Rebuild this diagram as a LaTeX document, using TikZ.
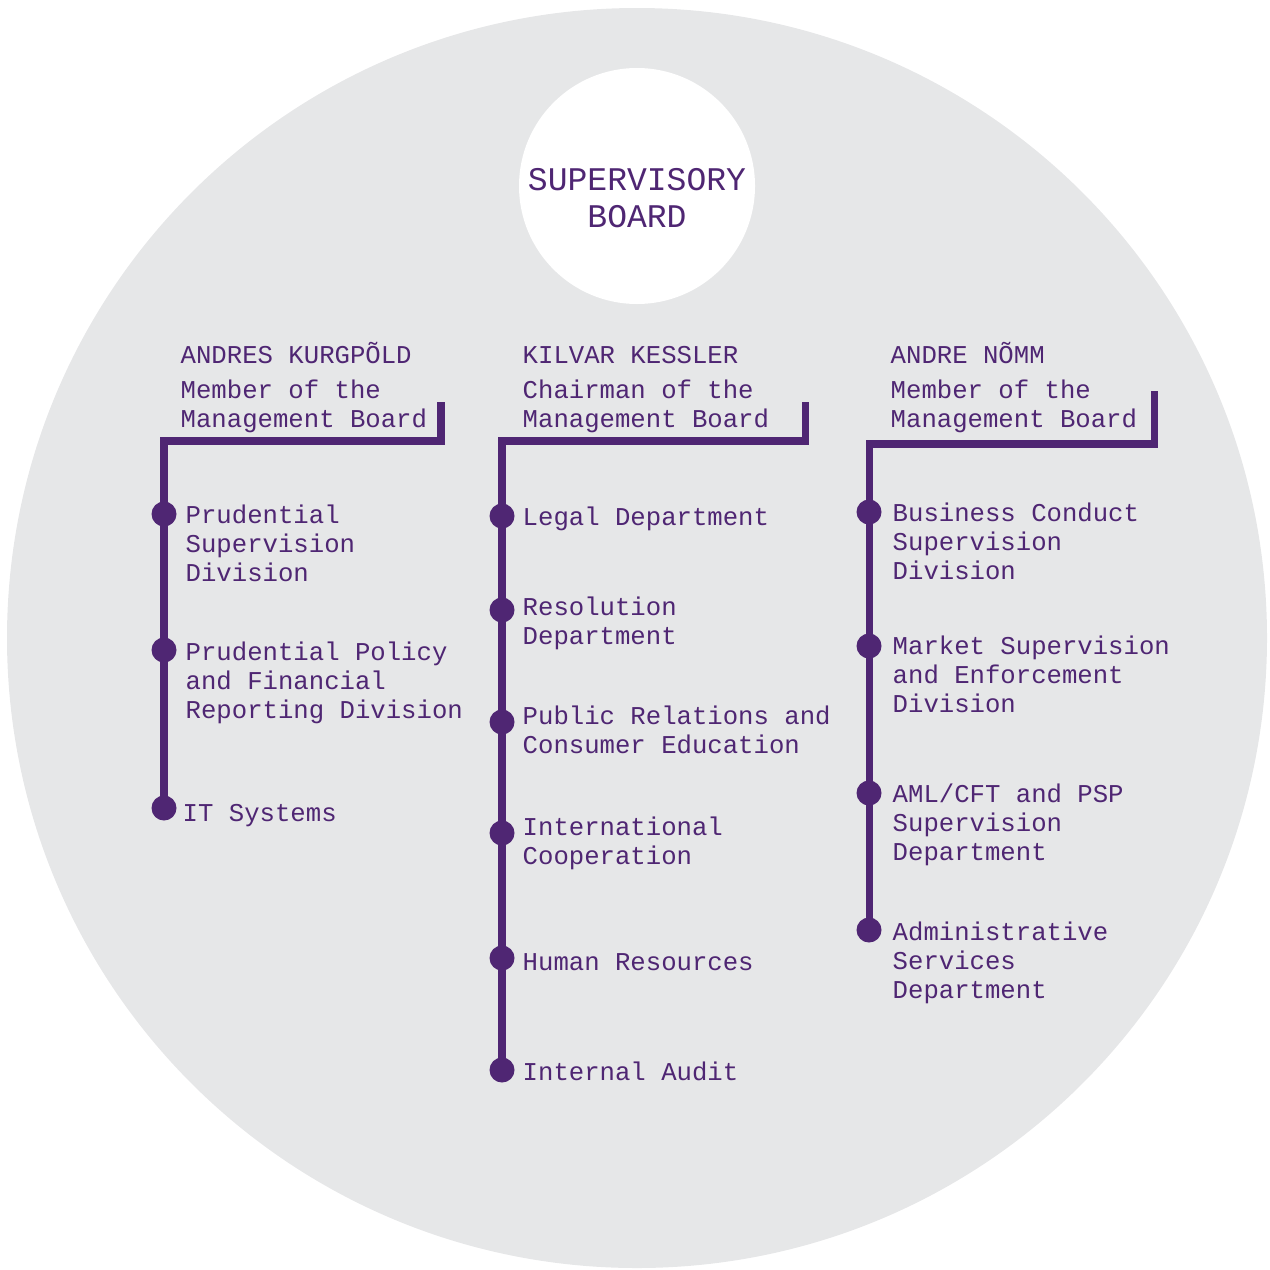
\documentclass[tikz,border=0pt]{standalone}
\usepackage{fontspec}
\newfontfamily\boardfont{Liberation Mono}
\definecolor{fsviolet}{RGB}{79,38,115}
\definecolor{fsgrey}{RGB}{230,231,232}
\begin{document}
\begin{tikzpicture}[x=0.1mm, y=-0.1mm, line join=miter,
	bar/.style={draw=fsviolet, line width=2pt},
	dot/.style={circle, fill=fsviolet, minimum size=2.5mm, inner sep=0pt},
	txt/.style={anchor=base west, inner sep=0pt, align=left, text=fsviolet, font=\boardfont\fontsize{7.3}{8.25}\selectfont}]
	\useasboundingbox (0,0) rectangle (1270,1269);
	\fill[fsgrey] (637,638) circle[radius=63mm];
	\fill[white] (637,186) circle[radius=11.8mm];
	\node[txt, anchor=base, align=center, font=\boardfont\fontsize{9.4}{10.5}\selectfont] (board) at (637,227) {SUPERVISORY\\BOARD};
	% left
	\node[txt] (kurgname) at (180,363) {ANDRES KURGPÕLD};
	\node[txt] (kurgtitle) at (180,427) {Member of the\\Management Board};
	\coordinate (kurgtop) at (441,402);
	\coordinate (kurgcorner) at (164,441);
	\node[dot] (kurg1) at (164,514) {};
	\node[dot] (kurg2) at (164,650) {};
	\node[dot] (kurg3) at (164,808) {};
	\draw[bar] (kurgtop) |- (kurgcorner) -- (kurg3.center);
	\node[txt] (kurg1t) at (185,581) {Prudential\\Supervision\\Division};
	\node[txt] (kurg2t) at (185,718) {Prudential Policy\\and Financial\\Reporting Division};
	\node[txt] (kurg3t) at (182,821) {IT Systems};
	% middle
	\node[txt] (kessname) at (522,363) {KILVAR KESSLER};
	\node[txt] (kesstitle) at (522,427) {Chairman of the\\Management Board};
	\coordinate (kesstop) at (805,402);
	\coordinate (kesscorner) at (502,441);
	\node[dot] (kess1) at (502,516) {};
	\node[dot] (kess2) at (502,610) {};
	\node[dot] (kess3) at (502,722) {};
	\node[dot] (kess4) at (502,833) {};
	\node[dot] (kess5) at (502,958) {};
	\node[dot] (kess6) at (502,1070) {};
	\draw[bar] (kesstop) |- (kesscorner) -- (kess6.center);
	\node[txt] (kess1t) at (522,525) {Legal Department};
	\node[txt] (kess2t) at (522,644) {Resolution\\Department};
	\node[txt] (kess3t) at (522,753) {Public Relations and\\Consumer Education};
	\node[txt] (kess4t) at (522,864) {International\\Cooperation};
	\node[txt] (kess5t) at (522,970) {Human Resources};
	\node[txt] (kess6t) at (522,1080) {Internal Audit};
	% right
	\node[txt] (nommname) at (890,363) {ANDRE NÕMM};
	\node[txt] (nommtitle) at (890,427) {Member of the\\Management Board};
	\coordinate (nommtop) at (1154,391);
	\coordinate (nommcorner) at (869,444);
	\node[dot] (nomm1) at (869,512) {};
	\node[dot] (nomm2) at (869,646) {};
	\node[dot] (nomm3) at (869,793) {};
	\node[dot] (nomm4) at (869,930) {};
	\draw[bar] (nommtop) |- (nommcorner) -- (nomm4.center);
	\node[txt] (nomm1t) at (892,579) {Business Conduct\\Supervision\\Division};
	\node[txt] (nomm2t) at (892,712) {Market Supervision\\and Enforcement\\Division};
	\node[txt] (nomm3t) at (892,860) {AML/CFT and PSP\\Supervision\\Department};
	\node[txt] (nomm4t) at (892,998) {Administrative\\Services\\Department};
\end{tikzpicture}
\end{document}
